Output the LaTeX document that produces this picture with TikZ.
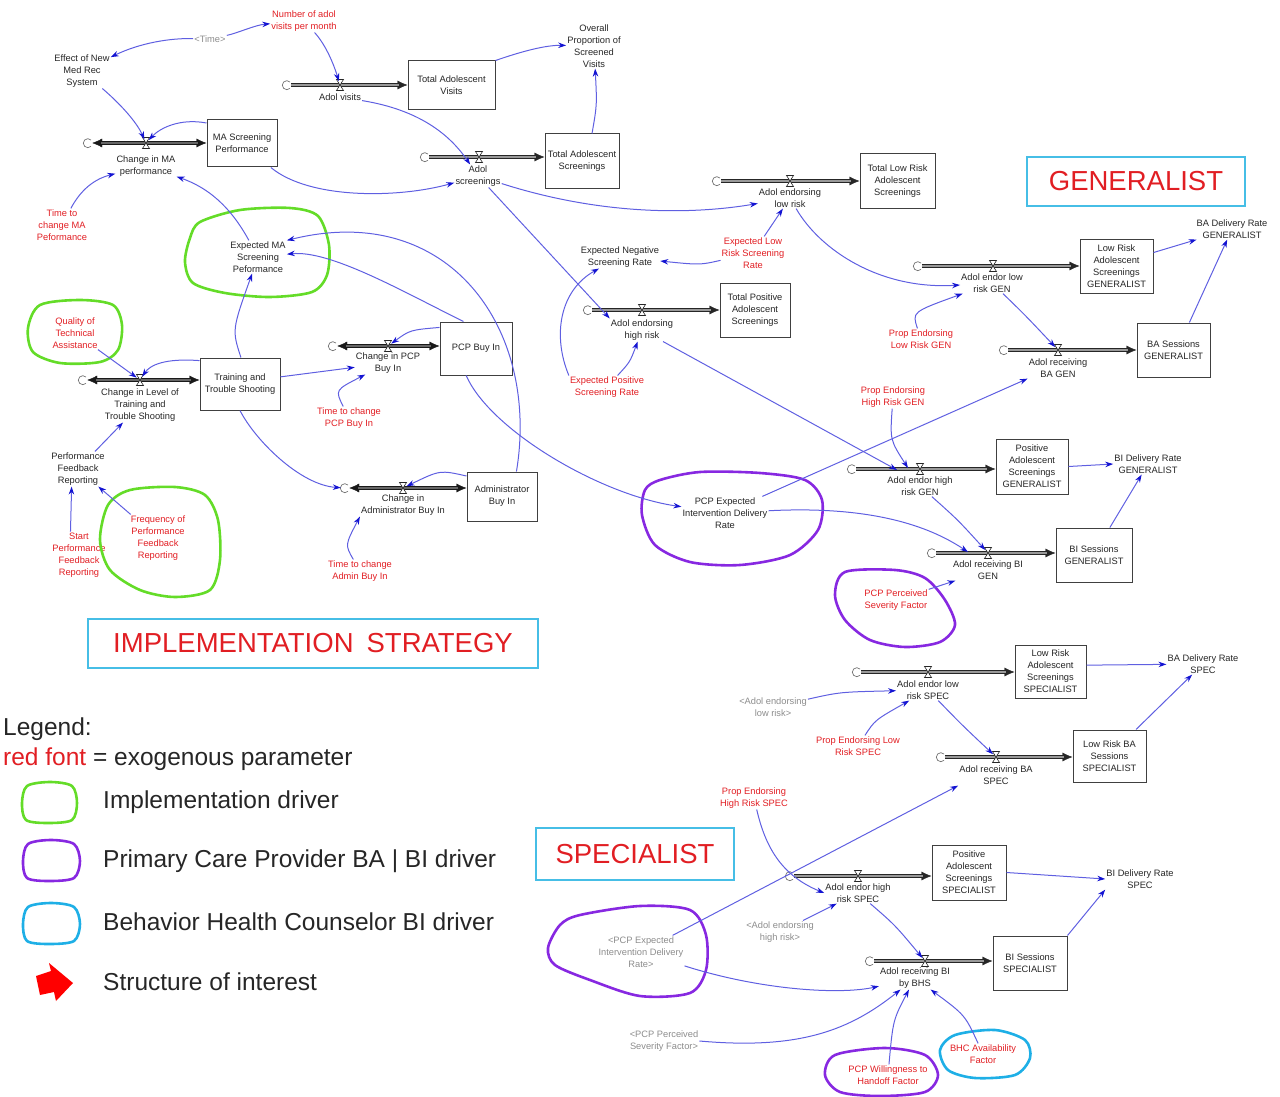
\documentclass[tikz,border=0pt]{standalone}
\usepackage{fontspec}
\setmainfont{Liberation Sans}
\usetikzlibrary{arrows.meta}
\definecolor{redc}{RGB}{225,30,35}
\definecolor{linkblue}{RGB}{95,95,225}
\definecolor{tipblue}{RGB}{20,20,210}
\definecolor{loopgreen}{RGB}{100,220,40}
\definecolor{looppurple}{RGB}{135,40,225}
\definecolor{loopcyan}{RGB}{30,175,230}
\definecolor{framecyan}{RGB}{70,190,230}
\newcommand\smallfs{\fontsize{9.3}{12}\selectfont}
\begin{document}
\begin{tikzpicture}[x=1pt,y=-1pt,
 txt/.style={font=\smallfs, align=center, inner sep=1pt, text=black!85},
 parm/.style={txt, text=redc},
 shad/.style={txt, text=black!45},
 stock/.style={draw=black!75, line width=1pt, fill=white, font=\smallfs, align=center, inner sep=1pt, text=black!85},
 conn/.style={draw=linkblue, line width=1pt, -{Stealth[length=8pt,width=5.5pt,color=tipblue]}},
 tov/.style={shorten >=4pt},
 pipe/.style={draw=black!85, line width=3.8pt, -{Latex[length=10pt,width=9pt,line width=0.4pt]},
   postaction={draw=black!40, line width=1.4pt, arrows=-, shorten >=9pt}},
 bipipe/.style={draw=black!90, line width=3.8pt, {Latex[length=10pt,width=9pt,line width=0.4pt]}-{Latex[length=10pt,width=9pt,line width=0.4pt]},
   postaction={draw=black!60, line width=1.2pt, arrows=-, shorten >=9pt, shorten <=9pt}},
 cloudn/.style={circle, inner sep=0pt, minimum size=8pt},
 valvep/.pic={\draw[line width=0.6pt, fill=white, draw=black!85] (-3.5,-5.5) -- (3.5,-5.5) -- (-3.5,5.5) -- (3.5,5.5) -- cycle;},
 cloudp/.pic={\draw[line width=0.7pt, draw=black!55] (3,-3) arc[start angle=-45, end angle=-315, radius=4.5];},
 blob/.style={line width=2.6pt, line join=round},
 titlebox/.style={draw=framecyan, line width=1.6pt, text=redc, font=\fontsize{27.5}{30}\selectfont, inner sep=0pt},
 legtxt/.style={font=\fontsize{24.5}{28}\selectfont, anchor=west, inner sep=0pt, text=black!85}
]
\useasboundingbox (0,0) rectangle (1280,1097);

% ---------- top left ----------
\node[txt] (effect) at (82,71) {Effect of New\\Med Rec\\System};
\node[shad] (time) at (210,39) {<Time>};
\node[parm] (nadol) at (304,21) {Number of adol\\visits per month};
\node[cloudn] (cAV) at (287,85) {};
\coordinate (vAV) at (340,85);
\node[stock, minimum width=87pt, minimum height=49pt] (TAV) at (451.5,85.5) {Total Adolescent\\Visits};
\node[txt] (lAV) at (340,97) {Adol visits};
\node[txt] (overall) at (594,46) {Overall\\Proportion of\\Screened\\Visits};
\node[stock, minimum width=74pt, minimum height=54pt] (TAS) at (582,161) {Total Adolescent\\Screenings};
\node[cloudn] (cAS) at (425,157) {};
\coordinate (vAS) at (479,157);
\node[txt] (lAS) at (478,176) {Adol\\screenings};

\node[cloudn] (cMA) at (88,143) {};
\coordinate (vMA) at (146,143);
\node[stock, minimum width=70pt, minimum height=47pt] (MA) at (242,143.5) {MA Screening\\Performance};
\node[txt] (lMA) at (146,166) {Change in MA\\performance};
\node[parm] (tMA) at (62,225) {Time to\\change MA\\Peformance};
\node[txt] (expMA) at (258,257) {Expected MA\\Screening\\Peformance};

\node[cloudn] (cTR) at (83,380) {};
\coordinate (vTR) at (140,380);
\node[stock, minimum width=80pt, minimum height=52pt] (TR) at (240,384) {Training and\\Trouble Shooting};
\node[txt] (lTR) at (140,405) {Change in Level of\\Training and\\Trouble Shooting};
\node[parm] (qual) at (75,333) {Quality of\\Technical\\Assistance};
\node[txt] (perf) at (78,469) {Performance\\Feedback\\Reporting};
\node[parm] (start) at (79,555) {Start\\Performance\\Feedback\\Reporting};
\node[parm] (freq) at (158,538) {Frequency of\\Performance\\Feedback\\Reporting};

\node[cloudn] (cPB) at (333,346) {};
\coordinate (vPB) at (388,346);
\node[stock, minimum width=72pt, minimum height=53pt] (PB) at (476,348.5) {PCP Buy In};
\node[txt] (lPB) at (388,363) {Change in PCP\\Buy In};
\node[parm] (tPB) at (349,418) {Time to change\\PCP Buy In};

\node[cloudn] (cAD) at (345,488) {};
\coordinate (vAD) at (403,488);
\node[stock, minimum width=70pt, minimum height=49pt] (AD) at (502,496.5) {Administrator\\Buy In};
\node[txt] (lAD) at (403,505) {Change in\\Administrator Buy In};
\node[parm] (tAD) at (360,571) {Time to change\\Admin Buy In};

% ---------- middle ----------
\node[txt] (expNeg) at (620,257) {Expected Negative\\Screening Rate};
\node[parm] (expLow) at (753,253) {Expected Low\\Risk Screening\\Rate};
\node[cloudn] (cAEH) at (588,310) {};
\coordinate (vAEH) at (642,310);
\node[stock, minimum width=70pt, minimum height=54pt] (TPS) at (755,310) {Total Positive\\Adolescent\\Screenings};
\node[txt] (lAEH) at (642,330) {Adol endorsing\\high risk};
\node[parm] (expPos) at (607,387) {Expected Positive\\Screening Rate};

\node[cloudn] (cAEL) at (717,181) {};
\coordinate (vAEL) at (790,181);
\node[stock, minimum width=75pt, minimum height=54pt] (TLR) at (897.5,181) {Total Low Risk\\Adolescent\\Screenings};
\node[txt] (lAEL) at (790,198) {Adol endorsing\\low risk};

% ---------- generalist ----------
\node[titlebox, minimum width=218pt, minimum height=49pt] (gen) at (1136,181.5) {GENERALIST};
\node[txt] (BADRG) at (1232,229) {BA Delivery Rate\\GENERALIST};
\node[cloudn] (cALG) at (918,266) {};
\coordinate (vALG) at (993,266);
\node[stock, minimum width=73pt, minimum height=54pt] (LRG) at (1116.5,266) {Low Risk\\Adolescent\\Screenings\\GENERALIST};
\node[txt] (lALG) at (992,283) {Adol endor low\\risk GEN};
\node[parm] (PELG) at (921,339) {Prop Endorsing\\Low Risk GEN};
\node[cloudn] (cARBG) at (1004,350) {};
\coordinate (vARBG) at (1058,350);
\node[stock, minimum width=73pt, minimum height=54pt] (BASG) at (1173.5,350) {BA Sessions\\GENERALIST};
\node[txt] (lARBG) at (1058,368) {Adol receiving\\BA GEN};
\node[parm] (PEHG) at (893,397) {Prop Endorsing\\High Risk GEN};
\node[cloudn] (cAHG) at (852,469) {};
\coordinate (vAHG) at (920,469);
\coordinate (aHG1) at (897,470);
\coordinate (aHG2) at (908,468);
\node[stock, minimum width=72pt, minimum height=55pt] (PSG) at (1032,466.5) {Positive\\Adolescent\\Screenings\\GENERALIST};
\node[txt] (lAHG) at (920,486) {Adol endor high\\risk GEN};
\node[txt] (BIDRG) at (1148,464) {BI Delivery Rate\\GENERALIST};
\node[cloudn] (cARBIG) at (932,553) {};
\coordinate (vARBIG) at (988,553);
\coordinate (aBIG1) at (968,552);
\node[stock, minimum width=76pt, minimum height=54pt] (BISG) at (1094,555) {BI Sessions\\GENERALIST};
\node[txt] (lARBIG) at (988,570) {Adol receiving BI\\GEN};
\node[txt] (PCPE) at (725,513) {PCP Expected\\Intervention Delivery\\Rate};
\node[parm] (PCPS) at (896,600) {PCP Perceived\\Severity Factor};

\node[titlebox, minimum width=450pt, minimum height=49pt] (impl) at (313,643.5) {IMPLEMENTATION\hspace{13pt}STRATEGY};

% ---------- specialist ----------
\node[cloudn] (cALS) at (857,672) {};
\coordinate (vALS) at (928,672);
\node[stock, minimum width=71pt, minimum height=53pt] (LRS) at (1050.5,671.5) {Low Risk\\Adolescent\\Screenings\\SPECIALIST};
\node[txt] (lALS) at (928,690) {Adol endor low\\risk SPEC};
\node[txt] (BADRS) at (1203,664) {BA Delivery Rate\\SPEC};
\node[shad] (shAEL) at (773,707) {<Adol endorsing\\low risk>};
\node[parm] (PELS) at (858,746) {Prop Endorsing Low\\Risk SPEC};
\node[cloudn] (cARBS) at (941,757) {};
\coordinate (vARBS) at (996,757);
\node[stock, minimum width=73pt, minimum height=52pt] (LRBS) at (1109.5,756) {Low Risk BA\\Sessions\\SPECIALIST};
\node[txt] (lARBS) at (996,775) {Adol receiving BA\\SPEC};
\node[parm] (PEHS) at (754,798) {Prop Endorsing\\High Risk SPEC};
\node[titlebox, minimum width=198pt, minimum height=52pt] (spec) at (635,854) {SPECIALIST};
\node[shad] (shPCPE) at (641,952) {<PCP Expected\\Intervention Delivery\\Rate>};
\node[cloudn] (cAHS) at (790,876) {};
\coordinate (vAHS) at (858,876);
\node[stock, minimum width=74pt, minimum height=55pt] (PSS) at (969,872.5) {Positive\\Adolescent\\Screenings\\SPECIALIST};
\node[txt] (lAHS) at (858,893) {Adol endor high\\risk SPEC};
\node[txt] (BIDRS) at (1140,879) {BI Delivery Rate\\SPEC};
\node[shad] (shAEH) at (780,932) {<Adol endorsing\\high risk>};
\node[cloudn] (cARBH) at (870,961) {};
\coordinate (vARBH) at (925,961);
\node[stock, minimum width=74pt, minimum height=54pt] (BISS) at (1030,963) {BI Sessions\\SPECIALIST};
\node[txt] (lARBH) at (915,978) {Adol receiving BI\\by BHS};
\node[shad] (shPCPS) at (664,1041) {<PCP Perceived\\Severity Factor>};
\node[parm] (PCPW) at (888,1075) {PCP Willingness to\\Handoff Factor};
\node[parm] (BHC) at (983,1054) {BHC Availability\\Factor};

% ---------- legend ----------
\node[legtxt] (legA) at (3,729) {Legend:};
\node[legtxt] (legB) at (3,759) {\textcolor{redc}{red font} = exogenous parameter};
\node[legtxt] (legC) at (103,802) {Implementation driver};
\node[legtxt] (legD) at (103,861) {Primary Care Provider BA | BI driver};
\node[legtxt] (legE) at (103,922) {Behavior Health Counselor BI driver};
\node[legtxt] (legF) at (103,982) {Structure of interest};

% ---------- loops ----------
\draw[blob, loopgreen] plot[smooth cycle] coordinates {(200,222) (240,210) (290,208) (318,216) (329,245) (327,275) (312,292) (270,297) (225,293) (193,283) (185,262) (190,238)};
\draw[blob, loopgreen] plot[smooth cycle] coordinates {(40,305) (80,300) (113,305) (122,325) (118,350) (100,362) (60,363) (33,352) (28,328)};
\draw[blob, loopgreen] plot[smooth cycle] coordinates {(130,490) (175,487) (205,495) (218,520) (220,560) (210,590) (175,597) (140,590) (110,570) (100,540) (108,505)};
\draw[blob, looppurple] plot[smooth cycle] coordinates {(660,480) (700,472) (760,473) (805,480) (822,500) (818,530) (790,555) (740,565) (690,562) (655,545) (642,515) (645,490)};
\draw[blob, looppurple] plot[smooth cycle] coordinates {(845,572) (895,570) (925,578) (945,600) (955,625) (940,642) (905,647) (870,640) (845,620) (835,595)};
\draw[blob, looppurple] plot[smooth cycle] coordinates {(580,915) (640,906) (690,910) (706,935) (706,970) (690,993) (640,996) (590,980) (555,965) (548,948) (560,925)};
\draw[blob, looppurple] plot[smooth cycle] coordinates {(835,1055) (885,1048) (925,1055) (938,1075) (925,1092) (880,1096) (840,1092) (825,1075)};
\draw[blob, loopcyan] plot[smooth cycle] coordinates {(955,1035) (995,1030) (1025,1040) (1030,1058) (1015,1075) (975,1078) (948,1070) (940,1050)};
\draw[blob, loopgreen] plot[smooth cycle] coordinates {(27,786) (50,782) (72,786) (77,803) (72,820) (48,823) (26,820) (22,803)};
\draw[blob, looppurple] plot[smooth cycle] coordinates {(28,844) (51,840) (74,844) (80,861) (74,878) (49,881) (27,878) (23,861)};
\draw[blob, loopcyan] plot[smooth cycle] coordinates {(28,907) (51,903) (74,907) (80,924) (74,941) (49,944) (27,941) (23,924)};
\fill[red] (36,976) -- (51,971) -- (49,963) -- (73,983) -- (56,1001) -- (54,992) -- (40,995) -- cycle;

% ---------- pipes ----------
\draw[pipe] (cAV.east) -- (cAV.east -| TAV.west);
\draw[pipe] (cAS.east) -- (cAS.east -| TAS.west);
\draw[bipipe] (cMA.east) -- (cMA.east -| MA.west);
\draw[bipipe] (cTR.east) -- (cTR.east -| TR.west);
\draw[bipipe] (cPB.east) -- (cPB.east -| PB.west);
\draw[bipipe] (cAD.east) -- (cAD.east -| AD.west);
\draw[pipe] (cAEH.east) -- (cAEH.east -| TPS.west);
\draw[pipe] (cAEL.east) -- (cAEL.east -| TLR.west);
\draw[pipe] (cALG.east) -- (cALG.east -| LRG.west);
\draw[pipe] (cARBG.east) -- (cARBG.east -| BASG.west);
\draw[pipe] (cAHG.east) -- (cAHG.east -| PSG.west);
\draw[pipe] (cARBIG.east) -- (cARBIG.east -| BISG.west);
\draw[pipe] (cALS.east) -- (cALS.east -| LRS.west);
\draw[pipe] (cARBS.east) -- (cARBS.east -| LRBS.west);
\draw[pipe] (cAHS.east) -- (cAHS.east -| PSS.west);
\draw[pipe] (cARBH.east) -- (cARBH.east -| BISS.west);
\foreach \v in {vAV,vAS,vMA,vTR,vPB,vAD,vAEH,vAEL,vALG,vARBG,vAHG,vARBIG,vALS,vARBS,vAHS,vARBH} \pic at (\v) {valvep};
\foreach \c in {cAV,cAS,cMA,cTR,cPB,cAD,cAEH,cAEL,cALG,cARBG,cAHG,cARBIG,cALS,cARBS,cAHS,cARBH} \pic at (\c) {cloudp};

% ---------- connectors ----------
\draw[conn] (time) .. controls (170,38) and (140,43) .. (effect);
\draw[conn] (time) .. controls (238,33) and (255,25) .. (nadol);
\draw[conn,tov] (nadol) .. controls (326,45) and (334,65) .. (vAV);
\draw[conn,tov] (effect) .. controls (125,108) and (138,125) .. (vMA);
\draw[conn,tov] (MA.150) .. controls (180,118) and (160,128) .. (vMA);
\draw[conn] (tMA) .. controls (78,195) and (90,180) .. (lMA);
\draw[conn] (expMA) .. controls (235,215) and (215,190) .. (lMA);
\draw[conn] (MA) .. controls (310,200) and (400,198) .. (lAS);
\draw[conn] (lAV) .. controls (420,110) and (450,135) .. (lAS);
\draw[conn] (TAV.north east) .. controls (520,52) and (545,45) .. (overall);
\draw[conn] (TAS.70) .. controls (597,105) .. (overall);
\draw[conn] (lAS) .. controls (600,215) and (690,215) .. (lAEL);
\draw[conn] (lAS) -- (lAEH.north west);
\draw[conn] (expLow) .. controls (700,265) .. (expNeg);
\draw[conn] (expLow) -- (lAEL);
\draw[conn] (expPos) .. controls (630,362) .. (lAEH);
\draw[conn] (expPos.north west) .. controls (552,335) and (560,290) .. (expNeg);
\draw[conn] (lAEH) -- (aHG1);
\draw[conn] (lAEL) .. controls (820,250) and (880,290) .. (lALG);
\draw[conn] (PELG) .. controls (912,312) .. (lALG);
\draw[conn] (LRG.20) -- (BADRG);
\draw[conn] (BASG.60) -- (BADRG);
\draw[conn,tov] (lALG) .. controls (1025,315) .. (vARBG);
\draw[conn] (PCPE) -- (lARBG.south west);
\draw[conn] (PEHG) .. controls (890,440) .. (aHG2);
\draw[conn] (PSG.east) -- (BIDRG.west);
\draw[conn] (BISG.60) -- (BIDRG);
\draw[conn,tov] (lAHG) .. controls (958,520) .. (vARBIG);
\draw[conn] (PCPE) .. controls (880,505) and (935,530) .. (aBIG1);
\draw[conn] (PCPS) -- (lARBIG);
\draw[conn] (PB.115) .. controls (400,290) and (330,250) .. (expMA);
\draw[conn] (AD.60) .. controls (540,330) and (450,200) .. (expMA.north east);
\draw[conn] (TR.88) .. controls (232,330) .. (expMA);
\draw[conn,tov] (qual) -- (vTR);
\draw[conn,tov] (TR.150) .. controls (165,358) and (150,365) .. (vTR);
\draw[conn] (perf) -- (lTR);
\draw[conn] (start.110) -- (perf.250);
\draw[conn] (freq) -- (perf);
\draw[conn] (TR.10) -- (lPB);
\draw[conn,tov] (PB.150) .. controls (410,330) .. (vPB);
\draw[conn] (tPB) .. controls (335,390) .. (lPB);
\draw[conn] (PB.250) .. controls (490,430) and (600,495) .. (PCPE);
\draw[conn] (TR.south) .. controls (255,440) and (300,485) .. (cAD);
\draw[conn,tov] (AD.150) .. controls (440,470) .. (vAD);
\draw[conn] (tAD) .. controls (345,545) .. (lAD.south west);
\draw[conn] (LRS.10) -- (BADRS);
\draw[conn] (shAEL) .. controls (840,692) .. (lALS);
\draw[conn] (PELS) .. controls (875,720) .. (lALS);
\draw[conn,tov] (lALS) .. controls (962,725) .. (vARBS);
\draw[conn] (LRBS.45) -- (BADRS);
\draw[conn] (PEHS) .. controls (765,845) and (780,875) .. (lAHS.west);
\draw[conn] (shPCPE) -- (lARBS.south west);
\draw[conn] (shPCPE) .. controls (760,990) and (840,995) .. (lARBH);
\draw[conn] (PSS.east) -- (BIDRS.west);
\draw[conn] (shAEH) -- (lAHS);
\draw[conn,tov] (lAHS) .. controls (895,925) .. (vARBH);
\draw[conn] (BISS.north east) -- (BIDRS.south west);
\draw[conn] (shPCPS.east) .. controls (800,1050) and (850,1030) .. (lARBH);
\draw[conn] (PCPW) .. controls (893,1020) .. (lARBH);
\draw[conn] (BHC) .. controls (965,1015) .. (lARBH);
\end{tikzpicture}
\end{document}
